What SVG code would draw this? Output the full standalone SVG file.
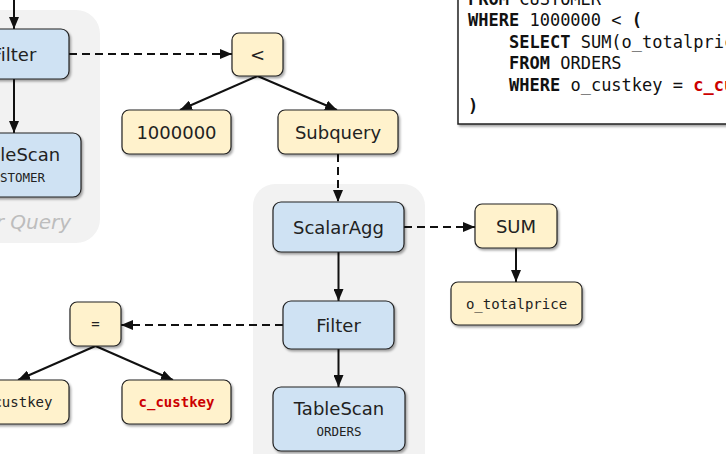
<svg xmlns="http://www.w3.org/2000/svg" width="726" height="454" viewBox="0 0 726 454">
<defs>
<filter id="sh" x="-20%" y="-20%" width="140%" height="150%">
<feDropShadow dx="1.5" dy="2" stdDeviation="1" flood-color="#000" flood-opacity="0.35"/>
</filter>
<marker id="ah" markerUnits="userSpaceOnUse" markerWidth="12" markerHeight="10" refX="12" refY="5" orient="auto">
<path d="M0,0 L12,5 L0,10 z" fill="#111"/>
</marker>
<style>
.grp{fill:#f2f2f2}
.op{fill:#cfe2f3;stroke:#222;stroke-width:1.2;filter:url(#sh)}
.ex{fill:#fff2cc;stroke:#222;stroke-width:1.2;filter:url(#sh)}
.t{font-family:"DejaVu Sans",Verdana,sans-serif;font-size:18px;fill:#222;text-anchor:middle}
.m{font-family:"DejaVu Sans Mono",monospace;font-size:14px;fill:#222;text-anchor:middle}
.s{font-family:"DejaVu Sans Mono",monospace;font-size:12.5px;fill:#222;text-anchor:middle}
.red{fill:#cc0000;font-weight:bold}
.lbl{font-family:"DejaVu Sans",Verdana,sans-serif;font-size:20px;font-style:italic;fill:#bdbdbd}
.c{fill:none;stroke:#111;stroke-width:2;marker-end:url(#ah)}
.d{stroke-dasharray:8 5}
.code{font-family:"DejaVu Sans Mono",monospace;font-size:17px;fill:#111}
.b{font-weight:bold}
</style>
</defs>

<g id="outer-query-group">
<rect class="grp" x="-120" y="10" width="220" height="233" rx="24"/>
<text class="lbl" x="71" y="229" text-anchor="end">Outer Query</text>
</g>
<g id="subquery-group">
<rect class="grp" x="253" y="184" width="172" height="300" rx="22"/>
</g>

<g id="code-box">
<rect x="458" y="-20" width="300" height="144" fill="#fff" stroke="#222" stroke-width="1.5" filter="url(#sh)"/>
<text class="code" x="468" y="4.5"><tspan class="b">FROM</tspan> CUSTOMER</text>
<text class="code" x="468" y="26"><tspan class="b">WHERE</tspan> 1000000 &lt; <tspan class="b">(</tspan></text>
<text class="code" x="509" y="47.5"><tspan class="b">SELECT</tspan> SUM(o_totalprice)</text>
<text class="code" x="509" y="69"><tspan class="b">FROM</tspan> ORDERS</text>
<text class="code" x="509" y="90.5"><tspan class="b">WHERE</tspan> o_custkey = <tspan class="red">c_custkey</tspan></text>
<text class="code" x="468" y="112"><tspan class="b">)</tspan></text>
</g>

<g id="connectors">
<path class="c" d="M14,-5 L14,29"/>
<path class="c" d="M14,79 L14,133"/>
<path class="c d" d="M69,54 L232,54"/>
<path class="c" d="M257.5,76 L180,110"/>
<path class="c" d="M257.5,76 L337,110"/>
<path class="c d" d="M338,154 L338,202"/>
<path class="c d" d="M404,227 L475,227"/>
<path class="c" d="M516,248 L516,282"/>
<path class="c" d="M338.5,252 L338.5,301"/>
<path class="c" d="M338.5,349 L338.5,387"/>
<path class="c d" d="M283,325 L121,325"/>
<path class="c" d="M95.5,346 L18,380"/>
<path class="c" d="M95.5,346 L173,380"/>
</g>

<g id="filter-outer">
<rect class="op" x="-41" y="29" width="110" height="50" rx="8"/>
<text class="t" x="14" y="60.5">Filter</text>
</g>
<g id="tablescan-customer">
<rect class="op" x="-51" y="133" width="132" height="64" rx="8"/>
<text class="t" x="15" y="161">TableScan</text>
<text class="s" x="15" y="182">CUSTOMER</text>
</g>
<g id="lt">
<rect class="ex" x="232" y="33" width="51" height="43" rx="7"/>
<text class="t" x="257.5" y="61">&lt;</text>
</g>
<g id="const-1000000">
<rect class="ex" x="122" y="110" width="109" height="44" rx="7"/>
<text class="t" x="176.5" y="138.5">1000000</text>
</g>
<g id="subquery">
<rect class="ex" x="278" y="110" width="120" height="44" rx="7"/>
<text class="t" x="338" y="138.5">Subquery</text>
</g>
<g id="scalaragg">
<rect class="op" x="273" y="202" width="131" height="50" rx="8"/>
<text class="t" x="338.5" y="233.5">ScalarAgg</text>
</g>
<g id="sum">
<rect class="ex" x="475" y="204" width="82" height="44" rx="7"/>
<text class="t" x="516" y="232.5">SUM</text>
</g>
<g id="o-totalprice">
<rect class="ex" x="451" y="282" width="131" height="43" rx="7"/>
<text class="m" x="516.5" y="308.5">o_totalprice</text>
</g>
<g id="filter-inner">
<rect class="op" x="283" y="301" width="111" height="48" rx="8"/>
<text class="t" x="338.5" y="331.5">Filter</text>
</g>
<g id="tablescan-orders">
<rect class="op" x="273" y="387" width="132" height="64" rx="8"/>
<text class="t" x="339" y="415">TableScan</text>
<text class="s" x="339" y="436">ORDERS</text>
</g>
<g id="eq">
<rect class="ex" x="70" y="302" width="51" height="44" rx="7"/>
<text class="m" x="95.5" y="329">=</text>
</g>
<g id="o-custkey">
<rect class="ex" x="-40" y="380" width="109" height="44" rx="7"/>
<text class="m" x="14.5" y="406.5">o_custkey</text>
</g>
<g id="c-custkey">
<rect class="ex" x="122" y="380" width="109" height="44" rx="7"/>
<text class="m red" x="176.5" y="406.5">c_custkey</text>
</g>
</svg>
